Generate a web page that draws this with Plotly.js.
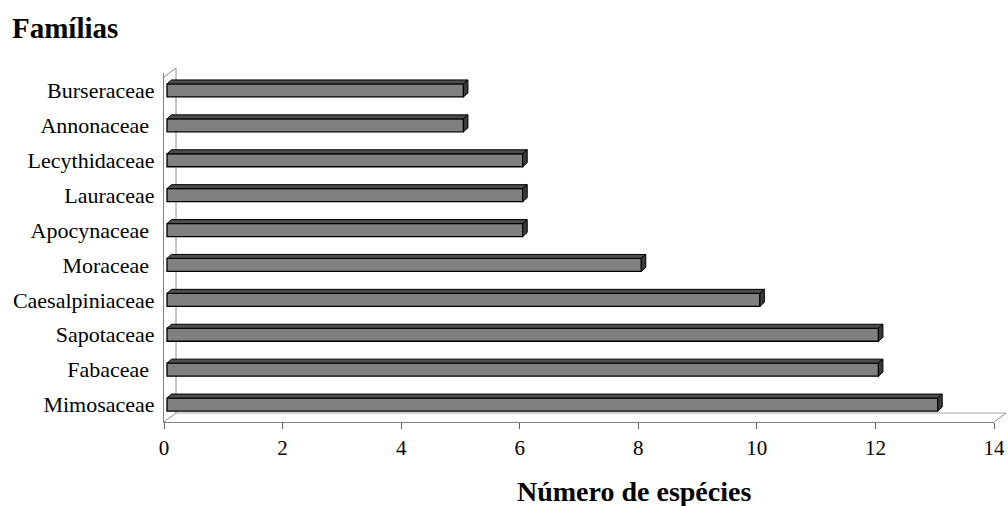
<!DOCTYPE html>
<html>
<head>
<meta charset="utf-8">
<script src="https://cdn.plot.ly/plotly-3.0.1.min.js"></script>
<style>html,body{margin:0;padding:0;background:#fff;}#chart{width:1008px;height:506px;}</style>
</head>
<body>
<div id="chart"></div>
<script>
// Data (bottom to top)
const families = ["Mimosaceae", "Fabaceae\u00a0", "Sapotaceae", "Caesalpiniaceae", "Moraceae\u00a0",
                  "Apocynaceae\u00a0", "Lauraceae", "Lecythidaceae", "Annonaceae\u00a0", "Burseraceae"];
const species = [13, 12, 12, 10, 8, 6, 6, 6, 5, 5];
const xTicks = [0, 2, 4, 6, 8, 10, 12, 14];

// Geometry (pixels)
const W = 1008, H = 506;
const L = 164, R = 14, T = 73, B = 84;
const plotW = W - L - R, plotH = H - T - B;
const xMax = 14;
const pxPerX = plotW / xMax;
const pxPerY = plotH / families.length;
const barShiftPx = 3;
const barDepthX = 4.5, barDepthY = 4;
const wallDX = 12, wallDY = 9;
const barWidth = 0.3725;

const idx = families.map((_, i) => i);
const shiftX = barShiftPx / pxPerX;
const dX = barDepthX / pxPerX;
const dY = barDepthY / pxPerY;

const shapes = [];
function px(x) { return (x - L) / plotW; }
function py(y) { return (H - B - y) / plotH; }
const floorFront = H - B;
function line(x0, y0, x1, y1, color) {
  shapes.push({type: 'line', xref: 'paper', yref: 'paper', x0: px(x0), y0: py(y0), x1: px(x1), y1: py(y1),
               line: {color: color, width: 1}, layer: 'below'});
}
line(L + wallDX, T - 5, L + wallDX, floorFront - wallDY, '#8c8c8c');
line(L, T + 4, L + wallDX, T - 5, '#8c8c8c');
line(L + wallDX, floorFront - wallDY, L + plotW + wallDX, floorFront - wallDY, '#a6a6a6');
line(L, floorFront, L + wallDX, floorFront - wallDY, '#8c8c8c');
line(L + plotW, floorFront, L + plotW + wallDX, floorFront - wallDY, '#8c8c8c');

species.forEach((v, i) => {
  const yt = i + barWidth / 2, yb = i - barWidth / 2;
  const x0 = 0, x1 = v;
  shapes.push({type: 'path', xref: 'x2', yref: 'y', layer: 'above',
    path: `M ${x0},${yt} L ${x1},${yt} L ${x1 + dX},${yt + dY} L ${x0 + dX},${yt + dY} Z`,
    fillcolor: '#4d4d4d', line: {color: '#000', width: 1}});
  shapes.push({type: 'path', xref: 'x2', yref: 'y', layer: 'above',
    path: `M ${x1},${yb} L ${x1},${yt} L ${x1 + dX},${yt + dY} L ${x1 + dX},${yb + dY} Z`,
    fillcolor: '#3a3a3a', line: {color: '#000', width: 1}});
});

const data = [
  {
    // invisible anchor trace so the visible x/y axes are drawn
    type: 'scatter', mode: 'markers', x: [0], y: [0], xaxis: 'x', yaxis: 'y',
    marker: {opacity: 0, size: 1}, hoverinfo: 'skip', showlegend: false
  },
  {
    type: 'bar', orientation: 'h',
    x: species, y: idx, xaxis: 'x2', yaxis: 'y',
    width: barWidth,
    marker: {color: '#808080', line: {color: '#000', width: 1.3}},
    hoverinfo: 'x+text', text: families, textposition: 'none'
  }
];

const fontFam = '"Liberation Serif", "Times New Roman", serif';
const layout = {
  width: W, height: H,
  margin: {l: L, r: R, t: T, b: B, pad: 0},
  paper_bgcolor: '#fff', plot_bgcolor: 'rgba(0,0,0,0)',
  showlegend: false,
  font: {family: fontFam, color: '#000', size: 21},
  title: {text: '<b>Famílias</b>', font: {family: fontFam, size: 29, color: '#000'},
          xref: 'container', yref: 'container', x: 12 / W, xanchor: 'left', y: 1 - 28 / H, yanchor: 'middle'},
  xaxis: {range: [0, xMax], tickvals: xTicks, ticktext: xTicks.map(String),
          ticks: 'outside', ticklen: 6, tickcolor: '#606060', tickwidth: 1,
          showgrid: false, zeroline: false, showline: true, linecolor: '#808080', linewidth: 1,
          tickfont: {family: fontFam, size: 21, color: '#000'}, ticklabelstandoff: 1, fixedrange: true},
  xaxis2: {overlaying: 'x', range: [-shiftX, xMax - shiftX], visible: false, fixedrange: true},
  yaxis: {range: [-0.5, families.length - 0.5], tickvals: idx, ticktext: families,
          ticks: '', showgrid: false, zeroline: false, showline: true, linecolor: '#808080', linewidth: 1,
          tickfont: {family: fontFam, size: 22, color: '#000'}, ticklabelstandoff: 4, fixedrange: true},
  shapes: shapes,
  annotations: [{
    text: '<b>Número de espécies</b>', xref: 'paper', yref: 'paper',
    x: (634 - L) / plotW, y: -(491 - (H - B)) / plotH, xanchor: 'center', yanchor: 'middle',
    showarrow: false, font: {family: fontFam, size: 28, color: '#000'}
  }]
};

Plotly.newPlot('chart', data, layout, {displayModeBar: false, staticPlot: true});
</script>
</body>
</html>
